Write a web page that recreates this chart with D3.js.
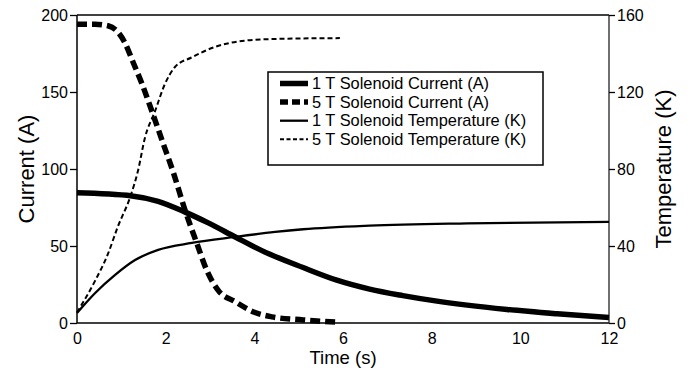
<!DOCTYPE html>
<html>
<head>
<meta charset="utf-8">
<script src="https://cdn.jsdelivr.net/npm/d3@7"></script>
<style>
body { margin: 0; background: #fff; }
svg { font-family: "Liberation Sans", Arial, sans-serif; }
.tick line { stroke: #000; stroke-width: 1.3px; }
.tick text { font-size: 16px; fill: #000; }
</style>
</head>
<body>
<svg width="687" height="375"></svg>
<script>

// 1 T solenoid current (A)
var time1Cur = [0, 1.24, 1.83, 2.44, 2.96, 3.56, 4.17, 5.1, 5.86, 6.6, 7.35, 8.12, 8.8, 9.7, 10.83, 12];
var cur1 =     [84.5, 82.5, 79, 72, 65, 56, 47, 36, 27.8, 22, 17.8, 14.2, 11.6, 8.8, 6, 3.5];

// 5 T solenoid current (A)
var time5Cur = [0, 0.4, 0.7, 0.92, 1.08, 1.27, 1.47, 1.72, 1.95, 2.17, 2.44, 2.7, 2.93, 3.19, 3.56, 4.0, 4.4, 5.1, 5.9];
var cur5 =     [194, 194, 193, 189, 182, 169, 155, 135, 116, 98, 73, 52, 34, 21, 14, 7, 4, 2, 0.5];

// 1 T solenoid temperature (K)
var time1Temp = [0, 0.41, 0.86, 1.31, 1.83, 2.59, 3.56, 4.47, 5.1, 6.6, 8.8, 12];
var temp1 =     [5.2, 15.6, 25, 32.7, 38, 41.6, 44.7, 47.3, 48.7, 50.6, 51.8, 52.5];

// 5 T solenoid temperature (K)
var time5Temp = [0, 0.41, 0.7, 0.92, 1.2, 1.38, 1.53, 1.76, 1.98, 2.21, 2.59, 3.11, 3.72, 4.4, 5.93];
var temp5 =     [5.5, 22, 36, 50, 65.5, 79.5, 96, 110, 124, 133, 138, 143.4, 146.5, 147.5, 148];

var xTicks = [0, 2, 4, 6, 8, 10, 12];
var leftTicks = [0, 50, 100, 150, 200];
var rightTicks = [0, 40, 80, 120, 160];

var legendLabels = ["1 T Solenoid Current (A)", "5 T Solenoid Current (A)",
                    "1 T Solenoid Temperature (K)", "5 T Solenoid Temperature (K)"];

var svg = d3.select("svg");
var pl = 77, pr = 609, pt = 15, pb = 323;

var x = d3.scaleLinear().domain([0, 12]).range([pl, pr]);
var yL = d3.scaleLinear().domain([0, 200]).range([pb, pt]);
var yR = d3.scaleLinear().domain([0, 160]).range([pb, pt]);

// series styles
var styles = [
  { w: 5.5, dash: null },
  { w: 5.5, dash: "10,5" },
  { w: 2.3, dash: null },
  { w: 2, dash: "5,3" }
];

function zip(a, b) { return a.map(function(t, i) { return [t, b[i]]; }); }

var series = [
  { pts: zip(time1Cur, cur1), y: yL },
  { pts: zip(time5Cur, cur5), y: yL },
  { pts: zip(time1Temp, temp1), y: yR },
  { pts: zip(time5Temp, temp5), y: yR }
];

// frame
svg.append("line").attr("x1", pl).attr("x2", pr).attr("y1", pt).attr("y2", pt)
  .attr("stroke", "#000").attr("stroke-width", 1.5);
svg.append("line").attr("x1", pl).attr("x2", pr).attr("y1", pb).attr("y2", pb)
  .attr("stroke", "#000").attr("stroke-width", 1.5);
svg.append("line").attr("x1", pl).attr("x2", pl).attr("y1", pt).attr("y2", pb)
  .attr("stroke", "#000").attr("stroke-width", 1.5);
svg.append("line").attr("x1", pr).attr("x2", pr).attr("y1", pt).attr("y2", pb)
  .attr("stroke", "#222").attr("stroke-width", 1.3);

// axes
var gx = svg.append("g").attr("transform", "translate(0," + pb + ")")
  .call(d3.axisBottom(x).tickValues(xTicks).tickSize(0).tickPadding(10));
gx.select(".domain").remove();

var gl = svg.append("g").attr("transform", "translate(" + pl + ",0)")
  .call(d3.axisLeft(yL).tickValues(leftTicks).tickSize(7).tickPadding(2));
gl.select(".domain").remove();

var gr = svg.append("g").attr("transform", "translate(" + pr + ",0)")
  .call(d3.axisRight(yR).tickValues(rightTicks).tickSize(6).tickPadding(2));
gr.select(".domain").remove();

svg.selectAll(".tick text").attr("font-family", "Liberation Sans, Arial, sans-serif");

// lines
series.forEach(function(s, i) {
  var line = d3.line()
    .x(function(d) { return x(d[0]); })
    .y(function(d) { return s.y(d[1]); })
    .curve(d3.curveMonotoneX);
  svg.append("path")
    .datum(s.pts)
    .attr("d", line)
    .attr("fill", "none")
    .attr("stroke", "#000")
    .attr("stroke-width", styles[i].w)
    .attr("stroke-dasharray", styles[i].dash);
});

// axis titles
svg.append("text")
  .attr("transform", "translate(26," + (pt + pb) / 2 + ") rotate(-90)")
  .attr("text-anchor", "middle").attr("dominant-baseline", "central")
  .attr("font-size", 22).text("Current (A)");

svg.append("text")
  .attr("transform", "translate(663," + (pt + pb) / 2 + ") rotate(-90)")
  .attr("text-anchor", "middle").attr("dominant-baseline", "central")
  .attr("font-size", 22).text("Temperature (K)");

svg.append("text")
  .attr("x", (pl + pr) / 2).attr("y", 364)
  .attr("text-anchor", "middle")
  .attr("font-size", 18.5).text("Time (s)");

// legend
var lg = svg.append("g").attr("transform", "translate(268,72)");
lg.append("rect").attr("width", 275).attr("height", 93)
  .attr("fill", "#fff").attr("stroke", "#000").attr("stroke-width", 1.5);

legendLabels.forEach(function(lab, i) {
  var yy = 11.5 + i * 18.6;
  lg.append("line").attr("x1", 12).attr("x2", 40).attr("y1", yy).attr("y2", yy)
    .attr("stroke", "#000").attr("stroke-width", styles[i].w)
    .attr("stroke-dasharray", i == 1 ? "8,4" : (i == 3 ? "4,2.5" : null));
  lg.append("text").attr("x", 44).attr("y", yy).attr("dy", "0.35em")
    .attr("font-size", 16.4).text(lab);
});

</script>
</body>
</html>
